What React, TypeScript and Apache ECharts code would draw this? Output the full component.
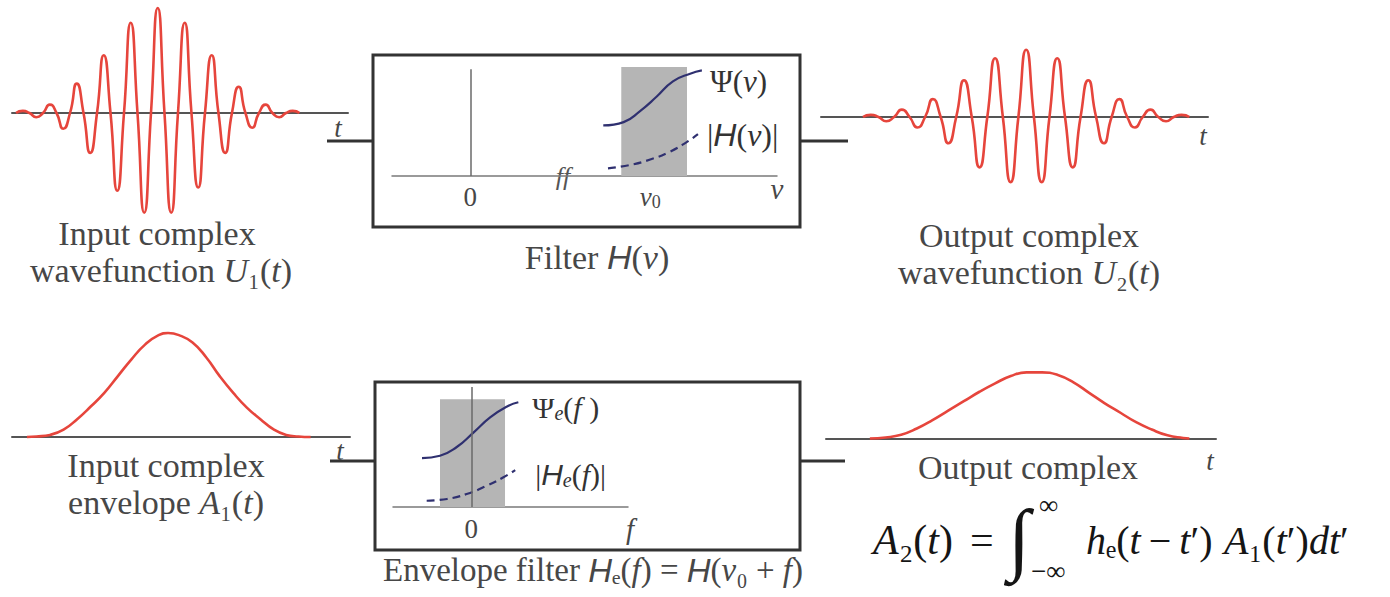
import React, { useEffect, useRef } from 'react';
import * as echarts from 'echarts';

const SERIF = '"Liberation Serif", "Times New Roman", serif';
const SANS = '"Liberation Sans", Arial, sans-serif';
const RED = '#e6453c';
const NAVY = '#2f3070';
const CAP = '#474747';
const INK = '#151515';

// ---- time-domain curves: [t, amplitude] (t in carrier half-periods) ----
const inputWave: [number, number][] = [
  [-10.5, 0], [-10, 0.02], [-9.5, 0], [-9, -0.04], [-8.5, 0], [-8, 0.08], [-7.5, 0], [-7, -0.15],
  [-6.5, 0], [-6, 0.28], [-5.5, 0], [-5, -0.38], [-4.5, 0], [-4, 0.55], [-3.5, 0], [-3, -0.74],
  [-2.5, 0], [-2, 0.86], [-1.5, 0], [-1, -0.95], [-0.5, 0], [0, 1], [0.5, 0], [1, -0.95],
  [1.5, 0], [2, 0.86], [2.5, 0], [3, -0.71], [3.5, 0], [4, 0.55], [4.5, 0], [5, -0.38],
  [5.5, 0], [6, 0.25], [6.5, 0], [7, -0.14], [7.5, 0], [8, 0.08], [8.5, 0], [9, -0.04],
  [9.5, 0], [10, 0.02], [10.5, 0],
];

const outputWave: [number, number][] = [
  [-8.1, 0], [-7.6, 0.02], [-7.1, 0], [-6.6, -0.04], [-6.1, 0], [-5.6, 0.07], [-5.1, 0], [-4.6, -0.1],
  [-4.1, 0], [-3.6, 0.17], [-3.1, 0], [-2.6, -0.25], [-2.1, 0], [-1.6, 0.35], [-1.1, 0], [-0.6, -0.48],
  [-0.1, 0], [0.4, 0.56], [0.9, 0], [1.4, -0.62], [1.9, 0], [2.4, 0.64], [2.9, 0], [3.4, -0.62],
  [3.9, 0], [4.4, 0.56], [4.9, 0], [5.4, -0.48], [5.9, 0], [6.4, 0.35], [6.9, 0], [7.4, -0.25],
  [7.9, 0], [8.4, 0.17], [8.9, 0], [9.4, -0.1], [9.9, 0], [10.4, 0.07], [10.9, 0], [11.4, -0.04],
  [11.9, 0], [12.4, 0.02], [12.9, 0],
];

const inputEnvelope: [number, number][] = [
  [-9.7, 0], [-9, 0.005], [-8, 0.02], [-7, 0.07], [-6, 0.17], [-5, 0.29], [-4, 0.42], [-3, 0.58],
  [-2, 0.74], [-1, 0.88], [0, 0.97], [0.7, 0.99], [1.5, 0.97], [2.5, 0.9], [3.5, 0.76], [4.5, 0.58],
  [5.5, 0.42], [6.5, 0.28], [7.5, 0.17], [8.5, 0.07], [9.4, 0.02], [10.3, 0.005], [11.2, 0],
];

const outputEnvelope: [number, number][] = [
  [-8, 0.005], [-7, 0.015], [-6, 0.04], [-5, 0.1], [-4, 0.18], [-3, 0.27], [-2, 0.36], [-1, 0.45],
  [0, 0.53], [1, 0.6], [2, 0.635], [3, 0.635], [4, 0.61], [5, 0.54], [6, 0.44], [7, 0.34],
  [8, 0.25], [9, 0.16], [10, 0.09], [11, 0.035], [12, 0.01], [12.4, 0.005],
];

// ---- filter (frequency domain) ----
const NU0 = 2.3;
const phaseFilter: [number, number][] = [
  [1.7, 0.46], [1.96, 0.49], [2.17, 0.59], [2.38, 0.72], [2.59, 0.86], [2.81, 0.93], [2.96, 0.96],
];
const magFilter: [number, number][] = [
  [1.76, 0.07], [2.04, 0.1], [2.3, 0.15], [2.55, 0.22], [2.77, 0.31], [2.91, 0.38],
];
const passbandFilter = [1.93, 2.77, 0.99];

const phaseEnvFilter: [number, number][] = [
  [-0.63, 0.445], [-0.4, 0.466], [-0.19, 0.543], [0.03, 0.679], [0.24, 0.815], [0.45, 0.912], [0.6, 0.952],
];
const magEnvFilter: [number, number][] = [
  [-0.57, 0.057], [-0.31, 0.073], [-0.06, 0.118], [0.2, 0.194], [0.41, 0.27], [0.56, 0.335],
];
const passbandEnv = [-0.4, 0.43, 0.98];

function gRich(size: number, color: string) {
  return {
    n: { fontSize: size, fontFamily: SERIF, fill: color },
    i: { fontSize: size, fontFamily: SERIF, fontStyle: 'italic', fill: color },
    h: { fontSize: size, fontFamily: SANS, fontStyle: 'italic', fill: color },
    c: { fontSize: size, fontFamily: SERIF, fontStyle: 'italic', fill: color },
  };
}
function sRich(size: number, color: string) {
  return {
    n: { fontSize: size, fontFamily: SERIF, color, lineHeight: size + 2 },
    i: { fontSize: size, fontFamily: SERIF, fontStyle: 'italic', color, lineHeight: size + 2 },
    h: { fontSize: size, fontFamily: SANS, fontStyle: 'italic', color, lineHeight: size + 2 },
    u: { fontSize: size, fontFamily: SERIF, color, lineHeight: size + 2 },
    s: { fontSize: Math.round(size * 0.68), fontFamily: SERIF, color, lineHeight: Math.round(size * 0.5), verticalAlign: 'bottom' },
    si: { fontSize: Math.round(size * 0.68), fontFamily: SERIF, fontStyle: 'italic', color, lineHeight: Math.round(size * 0.5), verticalAlign: 'bottom' },
  };
}

function txt(x: number, y: number, text: string, size: number, color: string, align = 'center') {
  return {
    type: 'text',
    x,
    y,
    silent: true,
    style: { text, rich: gRich(size, color), fill: color, fontSize: size, fontFamily: SERIF, align, verticalAlign: 'middle' },
  };
}

function hline(x1: number, x2: number, y: number, color = '#333', w = 3) {
  return { type: 'line', silent: true, shape: { x1, y1: y, x2, y2: y }, style: { stroke: color, lineWidth: w } };
}

function box(x: number, y: number, w: number, h: number) {
  return { type: 'rect', silent: true, shape: { x, y, width: w, height: h }, style: { fill: 'none', stroke: '#333', lineWidth: 3 } };
}

const hiddenY = (min: number, max: number, gridIndex: number) => ({
  type: 'value', gridIndex, min, max, show: false, splitLine: { show: false },
});

const plainX = (gridIndex: number, min: number, max: number, color: string, width: number) => ({
  type: 'value', gridIndex, min, max,
  axisLine: { show: true, onZero: true, lineStyle: { color, width } },
  axisTick: { show: false }, axisLabel: { show: false }, splitLine: { show: false },
});

const redLine = (idx: number, data: [number, number][], smooth: number) => ({
  type: 'line', xAxisIndex: idx, yAxisIndex: idx, data, smooth, showSymbol: false, silent: true,
  lineStyle: { color: RED, width: 2.6 }, itemStyle: { color: RED }, emphasis: { disabled: true }, clip: false,
});

const option: any = {
  animation: false,
  backgroundColor: '#ffffff',
  grid: [
    { left: 12, top: 8, width: 336, height: 210, outerBoundsMode: 'none' },
    { left: 821, top: 12, width: 387, height: 210, outerBoundsMode: 'none' },
    { left: 392, top: 66, width: 385, height: 110, outerBoundsMode: 'none' },
    { left: 12, top: 332, width: 338, height: 210, outerBoundsMode: 'none' },
    { left: 826, top: 334, width: 390, height: 210, outerBoundsMode: 'none' },
    { left: 393, top: 380.5, width: 235, height: 126.5, outerBoundsMode: 'none' },
  ],
  xAxis: [
    plainX(0, -10.8, 14.1, '#555', 2),
    plainX(1, -10.8, 14.1, '#555', 2),
    {
      type: 'value', gridIndex: 2, min: -1, max: 3.92,
      axisLine: { show: true, lineStyle: { color: '#7a7a7a', width: 1.5 } },
      axisTick: { show: true, customValues: [NU0], inside: true, length: 9, lineStyle: { color: '#555', width: 1.5 } },
      axisLabel: {
        show: true, customValues: [0, NU0], margin: 6, fontSize: 27, fontFamily: SERIF, color: CAP,
        formatter: (v: number) => (v === 0 ? '{n|0}' : '{i|ν}{s|0}'),
        rich: sRich(27, CAP),
      },
      splitLine: { show: false },
    },
    plainX(3, -10.8, 14.1, '#555', 2),
    plainX(4, -10.8, 14.1, '#555', 2),
    {
      type: 'value', gridIndex: 5, min: -1, max: 2,
      axisLine: { show: true, lineStyle: { color: '#7a7a7a', width: 1.5 } },
      axisTick: { show: false },
      axisLabel: {
        show: true, customValues: [0], margin: 7, fontSize: 27, fontFamily: SERIF, color: CAP,
        formatter: () => '{n|0}', rich: sRich(27, CAP),
      },
      splitLine: { show: false },
    },
  ],
  yAxis: [
    hiddenY(-1, 1, 0),
    hiddenY(-1, 1, 1),
    hiddenY(0, 1, 2),
    hiddenY(-1, 1, 3),
    hiddenY(-1, 1, 4),
    hiddenY(0, 1.15, 5),
  ],
  series: [
    redLine(0, inputWave, 0.6),
    redLine(1, outputWave, 0.6),
    redLine(3, inputEnvelope, 0.5),
    redLine(4, outputEnvelope, 0.5),
    {
      type: 'line', xAxisIndex: 2, yAxisIndex: 2, data: phaseFilter, smooth: 0.5, showSymbol: false, silent: true,
      lineStyle: { color: NAVY, width: 2.2 }, itemStyle: { color: NAVY }, emphasis: { disabled: true },
      endLabel: { show: true, distance: 8, offset: [0, 11], formatter: '{u|Ψ}{n|(}{i|ν}{n|)}', rich: sRich(31, '#333') },
      markArea: {
        silent: true, itemStyle: { color: '#b5b5b5' },
        data: [[{ xAxis: passbandFilter[0], yAxis: 0 }, { xAxis: passbandFilter[1], yAxis: passbandFilter[2] }]],
      },
      markLine: {
        silent: true, symbol: ['none', 'none'], label: { show: false },
        lineStyle: { color: '#6a6a6a', width: 1.5, type: 'solid' },
        data: [[{ coord: [0, 0] }, { coord: [0, 0.97] }]],
      },
    },
    {
      type: 'line', xAxisIndex: 2, yAxisIndex: 2, data: magFilter, smooth: 0.5, showSymbol: false, silent: true,
      lineStyle: { color: NAVY, width: 2.2, type: [8, 5] }, itemStyle: { color: NAVY }, emphasis: { disabled: true },
      endLabel: { show: true, distance: 9, offset: [0, 1], formatter: '{n||}{h|H}{n|(}{i|ν}{n|)|}', rich: sRich(32, '#333') },
    },
    {
      type: 'line', xAxisIndex: 5, yAxisIndex: 5, data: phaseEnvFilter, smooth: 0.5, showSymbol: false, silent: true,
      lineStyle: { color: NAVY, width: 2.2 }, itemStyle: { color: NAVY }, emphasis: { disabled: true },
      endLabel: { show: true, distance: 14, offset: [0, 5], formatter: '{u|Ψ}{si|e}{n|(}{i|f}{n| )}', rich: sRich(30, '#333') },
      markArea: {
        silent: true, itemStyle: { color: '#b5b5b5' },
        data: [[{ xAxis: passbandEnv[0], yAxis: 0 }, { xAxis: passbandEnv[1], yAxis: passbandEnv[2] }]],
      },
      markLine: {
        silent: true, symbol: ['none', 'none'], label: { show: false },
        lineStyle: { color: '#6a6a6a', width: 1.5, type: 'solid' },
        data: [[{ coord: [0, 0] }, { coord: [0, 1.09] }]],
      },
    },
    {
      type: 'line', xAxisIndex: 5, yAxisIndex: 5, data: magEnvFilter, smooth: 0.5, showSymbol: false, silent: true,
      lineStyle: { color: NAVY, width: 2.2, type: [8, 5] }, itemStyle: { color: NAVY }, emphasis: { disabled: true },
      endLabel: { show: true, distance: 20, offset: [0, 4], formatter: '{n||}{h|H}{si|e}{n|(}{i|f}{n|)|}', rich: sRich(30, '#333') },
    },
  ],
  graphic: [
    box(373, 55, 427, 172),
    box(375, 382, 425, 168),
    hline(327, 373, 141),
    hline(800, 848, 141),
    hline(330, 375, 461),
    hline(800, 845, 461),
    txt(338, 128, '{i|t}', 27, CAP),
    txt(1203, 136, '{i|t}', 27, CAP),
    txt(340, 451, '{i|t}', 27, CAP),
    txt(1210, 461, '{i|t}', 27, CAP),
    txt(777, 189, '{i|ν}', 29, CAP),
    txt(630, 529, '{i|f}', 29, CAP),
    txt(563, 176, '{i|ff}', 26, '#555'),
    txt(157, 233, '{n|Input complex}', 34, CAP),
    txt(161, 270, '{n|wavefunction }{i|U}{n|₁(}{i|t}{n|)}', 34, CAP),
    txt(597, 257, '{n|Filter }{h|H}{n|(}{i|ν}{n|)}', 34, CAP),
    txt(1029, 235, '{n|Output complex}', 34, CAP),
    txt(1029, 272, '{n|wavefunction }{i|U}{n|₂(}{i|t}{n|)}', 34, CAP),
    txt(166, 465, '{n|Input complex}', 34, CAP),
    txt(166, 502, '{n|envelope }{c|A}{n|₁(}{i|t}{n|)}', 34, CAP),
    txt(593, 570, '{n|Envelope filter }{h|H}{n|ₑ(}{i|f}{n|) = }{h|H}{n|(}{i|ν}{n|₀ + }{i|f}{n|)}', 33, CAP),
    txt(1028, 467, '{n|Output complex}', 34, CAP),
    // formula
    txt(873, 540, '{c|A}{n|₂(}{i|t}{n|)}', 42, INK, 'left'),
    txt(970, 540, '{n|=}', 42, INK, 'left'),
    txt(1008, 538, '{i|∫}', 80, INK, 'left'),
    txt(1039, 505, '{n|∞}', 27, INK, 'left'),
    txt(1031, 571, '{n|−∞}', 27, INK, 'left'),
    txt(1086, 540, '{i|h}{n|ₑ(}{i|t}{n|\u2009−\u2009}{i|t}{n|′)}', 40, INK, 'left'),
    txt(1224, 540, '{c|A}{n|₁(}{i|t}{n|′)}{i|dt}{n|′}', 40, INK, 'left'),
  ],
};

export default function App() {
  const ref = useRef<HTMLDivElement>(null);
  useEffect(() => {
    const chart = echarts.init(ref.current as HTMLDivElement, null, { renderer: 'svg' });
    chart.setOption(option);
    return () => chart.dispose();
  }, []);
  return (
    <div
      ref={ref}
      style={{ position: 'fixed', left: 0, top: 0, width: 1390, height: 597, background: '#fff' }}
    />
  );
}
